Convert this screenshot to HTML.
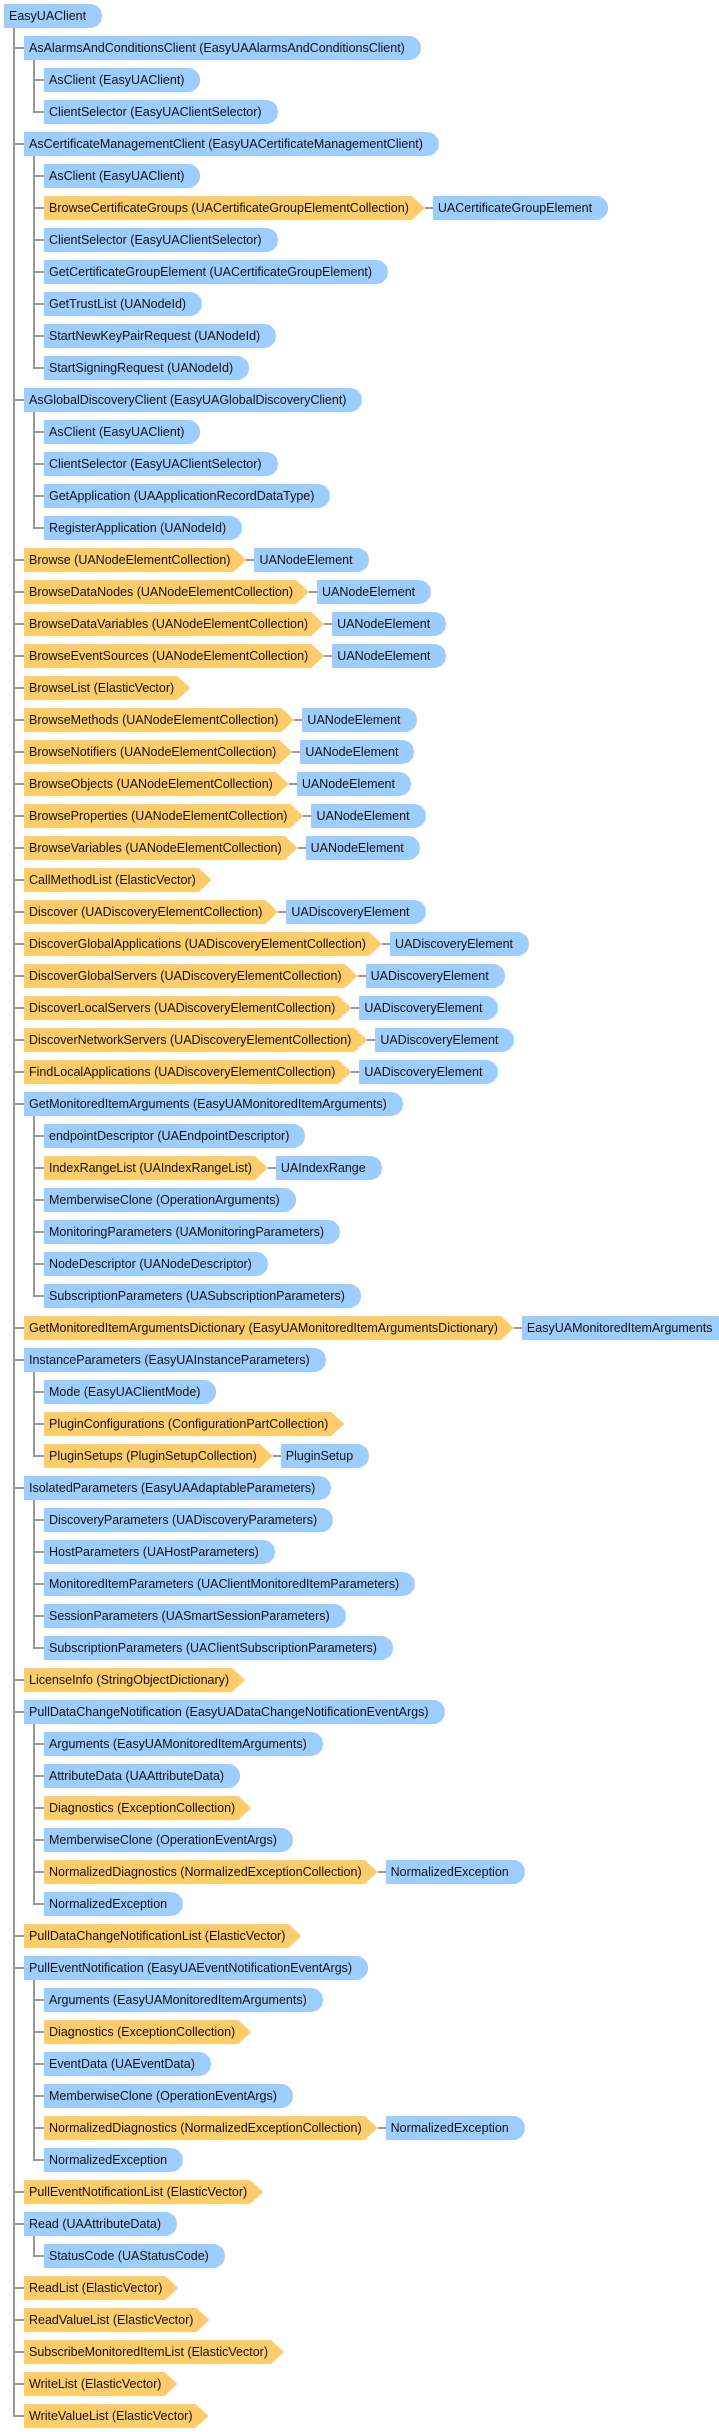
<!DOCTYPE html>
<html><head><meta charset="utf-8">
<style>
html,body{margin:0;padding:0;background:#fff;}
body{width:719px;height:2432px;position:relative;overflow:hidden;font-family:"Liberation Sans","DejaVu Sans",sans-serif;font-size:12.5px;color:#111;}
.row{position:absolute;height:24px;display:flex;align-items:center;white-space:nowrap;}
.box{height:24px;line-height:24px;padding-left:5px;box-sizing:border-box;}
.b{background:#9dcdfe;padding-right:16px;border-radius:0 12px 12px 0;}
.o{background:#fecc6a;padding-right:16px;clip-path:polygon(0 0,calc(100% - 13px) 0,100% 50%,calc(100% - 13px) 100%,0 100%);}
.conn{width:8px;height:2px;background:#999;}
.vl{position:absolute;width:2px;background:#999;}
.hl{position:absolute;height:2px;background:#999;}
</style></head><body>
<script>
const levels=[0,1,2,2,1,2,2,2,2,2,2,2,1,2,2,2,2,1,1,1,1,1,1,1,1,1,1,1,1,1,1,1,1,1,1,2,2,2,2,2,2,1,1,2,2,2,1,2,2,2,2,2,1,1,2,2,2,2,2,2,1,1,2,2,2,2,2,2,1,1,2,1,1,1,1,1];
const labels=["EasyUAClient","AsAlarmsAndConditionsClient (EasyUAAlarmsAndConditionsClient)","AsClient (EasyUAClient)","ClientSelector (EasyUAClientSelector)","AsCertificateManagementClient (EasyUACertificateManagementClient)","AsClient (EasyUAClient)","BrowseCertificateGroups (UACertificateGroupElementCollection)","ClientSelector (EasyUAClientSelector)","GetCertificateGroupElement (UACertificateGroupElement)","GetTrustList (UANodeId)","StartNewKeyPairRequest (UANodeId)","StartSigningRequest (UANodeId)","AsGlobalDiscoveryClient (EasyUAGlobalDiscoveryClient)","AsClient (EasyUAClient)","ClientSelector (EasyUAClientSelector)","GetApplication (UAApplicationRecordDataType)","RegisterApplication (UANodeId)","Browse (UANodeElementCollection)","BrowseDataNodes (UANodeElementCollection)","BrowseDataVariables (UANodeElementCollection)","BrowseEventSources (UANodeElementCollection)","BrowseList (ElasticVector)","BrowseMethods (UANodeElementCollection)","BrowseNotifiers (UANodeElementCollection)","BrowseObjects (UANodeElementCollection)","BrowseProperties (UANodeElementCollection)","BrowseVariables (UANodeElementCollection)","CallMethodList (ElasticVector)","Discover (UADiscoveryElementCollection)","DiscoverGlobalApplications (UADiscoveryElementCollection)","DiscoverGlobalServers (UADiscoveryElementCollection)","DiscoverLocalServers (UADiscoveryElementCollection)","DiscoverNetworkServers (UADiscoveryElementCollection)","FindLocalApplications (UADiscoveryElementCollection)","GetMonitoredItemArguments (EasyUAMonitoredItemArguments)","endpointDescriptor (UAEndpointDescriptor)","IndexRangeList (UAIndexRangeList)","MemberwiseClone (OperationArguments)","MonitoringParameters (UAMonitoringParameters)","NodeDescriptor (UANodeDescriptor)","SubscriptionParameters (UASubscriptionParameters)","GetMonitoredItemArgumentsDictionary (EasyUAMonitoredItemArgumentsDictionary)","InstanceParameters (EasyUAInstanceParameters)","Mode (EasyUAClientMode)","PluginConfigurations (ConfigurationPartCollection)","PluginSetups (PluginSetupCollection)","IsolatedParameters (EasyUAAdaptableParameters)","DiscoveryParameters (UADiscoveryParameters)","HostParameters (UAHostParameters)","MonitoredItemParameters (UAClientMonitoredItemParameters)","SessionParameters (UASmartSessionParameters)","SubscriptionParameters (UAClientSubscriptionParameters)","LicenseInfo (StringObjectDictionary)","PullDataChangeNotification (EasyUADataChangeNotificationEventArgs)","Arguments (EasyUAMonitoredItemArguments)","AttributeData (UAAttributeData)","Diagnostics (ExceptionCollection)","MemberwiseClone (OperationEventArgs)","NormalizedDiagnostics (NormalizedExceptionCollection)","NormalizedException","PullDataChangeNotificationList (ElasticVector)","PullEventNotification (EasyUAEventNotificationEventArgs)","Arguments (EasyUAMonitoredItemArguments)","Diagnostics (ExceptionCollection)","EventData (UAEventData)","MemberwiseClone (OperationEventArgs)","NormalizedDiagnostics (NormalizedExceptionCollection)","NormalizedException","PullEventNotificationList (ElasticVector)","Read (UAAttributeData)","StatusCode (UAStatusCode)","ReadList (ElasticVector)","ReadValueList (ElasticVector)","SubscribeMonitoredItemList (ElasticVector)","WriteList (ElasticVector)","WriteValueList (ElasticVector)"];
const orange=[6,17,18,19,20,21,22,23,24,25,26,27,28,29,30,31,32,33,36,41,44,45,52,56,58,60,63,66,68,71,72,73,74,75];
const extras={6:"UACertificateGroupElement",17:"UANodeElement",18:"UANodeElement",19:"UANodeElement",20:"UANodeElement",22:"UANodeElement",23:"UANodeElement",24:"UANodeElement",25:"UANodeElement",26:"UANodeElement",28:"UADiscoveryElement",29:"UADiscoveryElement",30:"UADiscoveryElement",31:"UADiscoveryElement",32:"UADiscoveryElement",33:"UADiscoveryElement",36:"UAIndexRange",41:"EasyUAMonitoredItemArguments",45:"PluginSetup",58:"NormalizedException",66:"NormalizedException"};
const TOP=4,PITCH=32;
function slug(s){return s.split(' ')[0].replace(/([a-z])([A-Z])/g,'$1-$2').toLowerCase();}
for(let i=0;i<labels.length;i++){
  const L=levels[i],y=TOP+PITCH*i,x=4+20*L;
  const row=document.createElement('div');
  row.className='row';row.style.left=x+'px';row.style.top=y+'px';
  
  
  const box=document.createElement('div');
  box.className='box '+(orange.includes(i)?'o':'b');
  box.textContent=labels[i];
  
  
  row.appendChild(box);
  if(extras[i]){
    const c=document.createElement('div');c.className='conn';
    
    
    row.appendChild(c);
    const e=document.createElement('div');e.className='box b';e.textContent=extras[i];
    
    
    row.appendChild(e);
  }
  document.body.appendChild(row);
  if(L>0){
    const lx=14+20*(L-1);
    const h=document.createElement('div');h.className='hl';
    h.style.left=lx+'px';h.style.top=(y+11)+'px';h.style.width=(x-lx)+'px';
    
    
    document.body.appendChild(h);
  }
  // vertical line for children
  let last=-1;
  for(let j=i+1;j<labels.length&&levels[j]>L;j++){if(levels[j]===L+1)last=j;}
  if(last>0){
    const v=document.createElement('div');v.className='vl';
    v.style.left=(13+20*L)+'px';v.style.top=(y+24)+'px';
    v.style.height=(TOP+PITCH*last+13-(y+24))+'px';
    
    
    document.body.appendChild(v);
  }
}
</script>
</body></html>
